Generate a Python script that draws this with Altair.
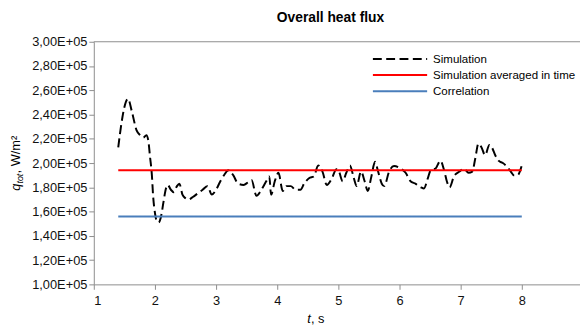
import altair as alt
import pandas as pd

# ---- data ----
t_sim = [1.40, 1.45, 1.50, 1.56, 1.62, 1.70, 1.76, 1.81, 1.86, 1.89, 1.92, 1.95, 1.97, 2.00,
         2.03, 2.06, 2.10, 2.14, 2.18, 2.21, 2.26, 2.31, 2.36, 2.40, 2.45, 2.50, 2.55, 2.62,
         2.70, 2.78, 2.86, 2.93, 3.00, 3.07, 3.13, 3.20, 3.28, 3.36, 3.45, 3.52, 3.58, 3.66,
         3.74, 3.82, 3.87, 3.90, 3.96, 4.02, 4.09, 4.15, 4.22, 4.30, 4.38, 4.44, 4.52, 4.60,
         4.67, 4.74, 4.81, 4.89, 4.97, 5.01, 5.07, 5.13, 5.19, 5.25, 5.30, 5.37, 5.43, 5.48,
         5.54, 5.60, 5.65, 5.71, 5.75, 5.83, 5.91, 6.02, 6.10, 6.18, 6.26, 6.35, 6.40, 6.46,
         6.51, 6.59, 6.67, 6.73, 6.78, 6.82, 6.89, 6.98, 7.05, 7.13, 7.19, 7.24, 7.29, 7.34,
         7.40, 7.47, 7.51, 7.57, 7.62, 7.69, 7.76, 7.82, 7.87, 7.93, 8.00]
q_sim = [2.13, 2.32, 2.46, 2.53, 2.43, 2.27, 2.23, 2.21, 2.23, 2.19, 2.05, 1.90, 1.73, 1.59,
         1.52, 1.51, 1.56, 1.68, 1.79, 1.82, 1.78, 1.76, 1.81, 1.83, 1.74, 1.71, 1.70, 1.72,
         1.75, 1.78, 1.81, 1.74, 1.78, 1.85, 1.90, 1.94, 1.90, 1.83, 1.82, 1.84, 1.86, 1.73,
         1.78, 1.85, 1.89, 1.74, 1.85, 1.92, 1.77, 1.81, 1.81, 1.78, 1.78, 1.83, 1.875, 1.89,
         1.98, 1.93, 1.82, 1.87, 1.95, 1.93, 1.85, 1.92, 1.98, 1.88, 1.81, 1.93, 1.85, 1.77,
         1.89, 2.01, 1.93, 1.83, 1.81, 1.93, 1.975, 1.955, 1.92, 1.85, 1.83, 1.80, 1.79, 1.87,
         1.94, 1.955, 2.02, 1.94, 1.84, 1.80, 1.89, 1.93, 1.955, 1.92, 1.93, 2.04, 2.16, 2.13,
         2.065, 2.15, 2.13, 2.06, 2.02, 2.00, 1.97, 1.93, 1.90, 1.90, 1.98]  # x 1E+05
avg_value = 1.94e5
corr_value = 1.56e5
t_span = [1.4, 8.0]

series_names = ["Simulation", "Simulation averaged in time", "Correlation"]
series_colors = ["#000000", "#ff0000", "#4a7ebb"]
series_dash = [[9, 4.5], [1, 0], [1, 0]]

x_ticks = [1, 2, 3, 4, 5, 6, 7, 8, 9]
y_ticks = [100000, 120000, 140000, 160000, 180000, 200000, 220000, 240000, 260000, 280000, 300000]

rows = [{"t": t, "q": q * 1e5, "series": series_names[0]} for t, q in zip(t_sim, q_sim)]
rows += [{"t": t, "q": avg_value, "series": series_names[1]} for t in t_span]
rows += [{"t": t, "q": corr_value, "series": series_names[2]} for t in t_span]
df = pd.DataFrame(rows)

FONT = "Liberation Sans"
GREY = "#8c8c8c"

x_enc = alt.X("t:Q",
              scale=alt.Scale(domain=[1, 8.952], nice=False, zero=False),
              axis=alt.Axis(values=x_ticks, title=None, format="d", labelPadding=5))
y_axis = alt.Axis(values=y_ticks, title=None, labelPadding=2, labelOverlap=False,
                  tickCount=11,
                  labelExpr="replace(format(datum.value/100000, '.2f'), '.', ',') + 'E+05'")
y_enc = alt.Y("q:Q", scale=alt.Scale(domain=[100000, 300000], nice=False, zero=False),
              axis=y_axis)

legend = alt.Legend(title=None, orient="none", legendX=304, legendY=11,
                    symbolType="M-5,0H5", symbolSize=121, symbolStrokeWidth=2,
                    symbolFillColor="transparent",
                    labelFont=FONT, labelFontSize=11.7, labelColor="#000000",
                    labelOffset=27, padding=0, rowPadding=2.3, labelLimit=400)

lines = alt.Chart(df).mark_line(strokeWidth=2, interpolate="monotone").encode(
    x=x_enc,
    y=y_enc,
    color=alt.Color("series:N", scale=alt.Scale(domain=series_names, range=series_colors),
                    legend=legend),
    strokeDash=alt.StrokeDash("series:N", scale=alt.Scale(domain=series_names, range=series_dash),
                              legend=legend),
)

top_line = alt.Chart(pd.DataFrame({"q": [300000]})).mark_rule(color=GREY, strokeWidth=1).encode(
    y=y_enc
)

one = pd.DataFrame({"a": [0]})


def label(text, x, y, size=13, style="normal", weight="normal", angle=0, align="left",
          baseline="alphabetic"):
    return alt.Chart(one).mark_text(text=text, font=FONT, fontSize=size, fontStyle=style,
                                    fontWeight=weight, angle=angle, align=align,
                                    baseline=baseline, color="#000000").encode(
        x=alt.value(x), y=alt.value(y))


title = label("Overall heat flux", 240, -20, size=14, weight="bold", align="center")
xt1 = label("t", 216.5, 285, style="italic")
xt2 = label(", s", 220.2, 285)
yt1 = label("q", -75, 151, style="italic", angle=270)
yt2 = label("tot", -72, 143.8, size=9, style="italic", angle=270)
yt3 = label(", W/m²", -75, 133.5, angle=270)

chart = alt.layer(lines, top_line, title, xt1, xt2, yt1, yt2, yt3).properties(
    width=493, height=246,
    autosize=alt.AutoSizeParams(type="none"),
    padding={"left": 87, "top": 32, "right": 0, "bottom": 42},
).configure_view(stroke=None).configure_axis(
    grid=False, domainColor=GREY, tickColor=GREY, tickSize=5,
    labelFont=FONT, labelFontSize=13, labelColor="#111111",
)

chart.save("out.html", embed_options={"renderer": "svg", "actions": False})
